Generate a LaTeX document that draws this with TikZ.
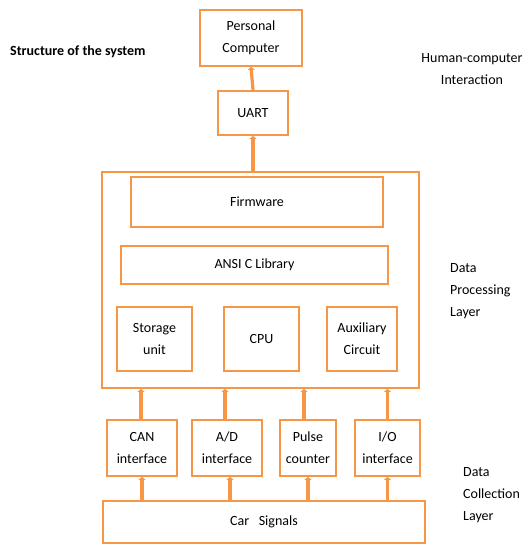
\documentclass[tikz,border=0pt]{standalone}
\usepackage{fontspec}
\setmainfont{Carlito}
\usetikzlibrary{arrows.meta}
\definecolor{boxorange}{RGB}{247,150,70}

\begin{document}
\begin{tikzpicture}[x=1pt,y=-1pt,
    font=\fontsize{14}{22}\selectfont,
    unit/.style={draw=boxorange,line width=1.8pt,align=center,inner sep=0pt},
    link/.style={draw=boxorange,line width=3.2pt,-{Triangle[width=7pt,length=3pt]}},
    layer/.style={align=left,anchor=west,inner sep=0pt}]

        \useasboundingbox (0,0) rectangle (526,544);

        \begin{scope}[every node/.style={unit}]
          \node (pc)    at (251,38)    [minimum width=102,minimum height=56] {Personal\\Computer};
          \node (uart)  at (253,113)   [minimum width=70,minimum height=44]  {UART};
          \node (dpl)   at (260.5,280) [minimum width=317,minimum height=216] {};
          \node (fw)    at (257,202)   [minimum width=252,minimum height=50] {Firmware};
          \node (ansi)  at (254.5,265) [minimum width=267,minimum height=38] {ANSI C Library};
          \node (stor)  at (154.5,339) [minimum width=75,minimum height=64]  {Storage\\unit};
          \node (cpu)   at (261.5,339) [minimum width=75,minimum height=64]  {CPU};
          \node (aux)   at (362,339)   [minimum width=70,minimum height=64]  {Auxiliary\\Circuit};
          \node (can)   at (142,448)   [minimum width=70,minimum height=56]  {CAN\\interface};
          \node (ad)    at (227,448)   [minimum width=70,minimum height=56]  {A/D\\interface};
          \node (pulse) at (308,448)   [minimum width=56,minimum height=56]  {Pulse\\counter};
          \node (io)    at (387.5,448) [minimum width=65,minimum height=56]  {I/O\\interface};
          \node (car)   at (264,522)   [minimum width=322,minimum height=42] {Car\ \ \ Signals};
        \end{scope}

        % side labels
        \node (title) at (10,52) [layer] {\bfseries Structure of the system};
        \node (hci) at (472,69) [align=center,inner sep=0pt] {Human-computer\\Interaction};
        \node (dplab) at (450,291) [layer] {Data\\Processing\\Layer};
        \node (dclab) at (463,495) [layer] {Data\\Collection\\Layer};

        % connections
        \path[link] (uart.north) -- (pc.south);
        \path[link] (uart.south |- dpl.north) -- (uart.south);
        \path[link] ([xshift=-1pt]can.north) -- ([xshift=-1pt]can.north |- dpl.south);
        \path[link] ([xshift=-2pt]ad.north) -- ([xshift=-2pt]ad.north |- dpl.south);
        \path[link] ([xshift=-4pt]pulse.north) -- ([xshift=-4pt]pulse.north |- dpl.south);
        \path[link] (io.north) -- (io.north |- dpl.south);
        \path[link] (can.south |- car.north) -- (can.south);
        \path[link] ([xshift=3pt]ad.south |- car.north) -- ([xshift=3pt]ad.south);
        \path[link] (pulse.south |- car.north) -- (pulse.south);
        \path[link] (io.south |- car.north) -- (io.south);

      \end{tikzpicture}
\end{document}
